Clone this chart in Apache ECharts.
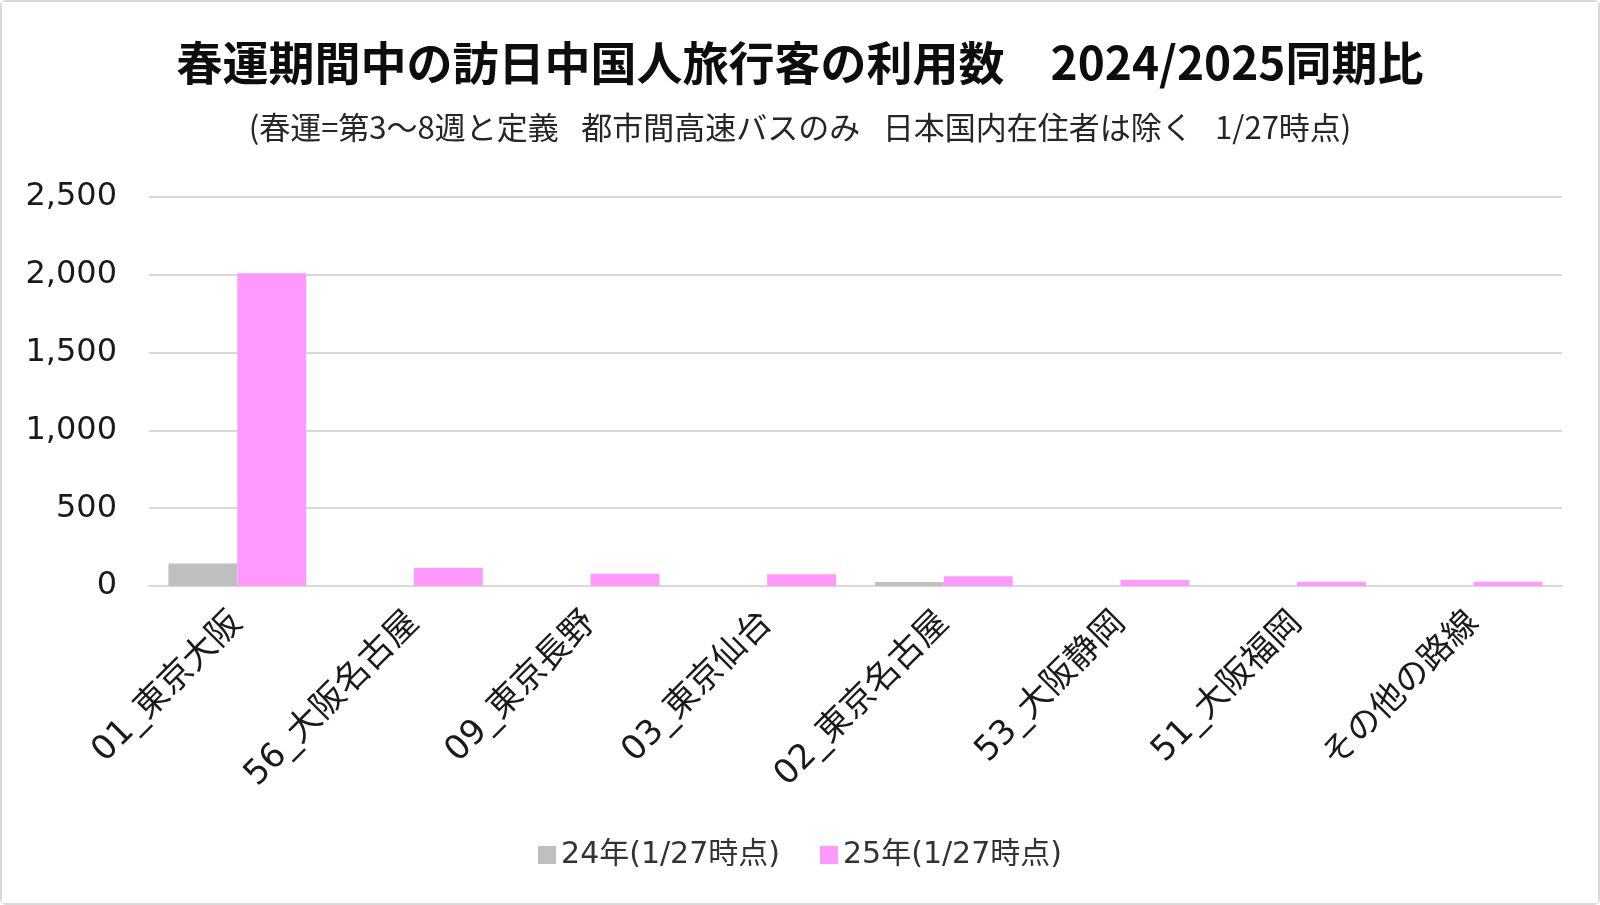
<!DOCTYPE html>
<html><head><meta charset="utf-8">
<script src="https://cdn.jsdelivr.net/npm/echarts@6/dist/echarts.min.js"></script>
<style>html,body{margin:0;padding:0;background:#fff}#c{width:1600px;height:905px;box-sizing:border-box;border:2px solid #d9d9d9;border-radius:6px}</style>
</head><body><div id="c"></div>
<script>
const categories = ['01_東京大阪','56_大阪名古屋','09_東京長野','03_東京仙台','02_東京名古屋','53_大阪静岡','51_大阪福岡','その他の路線'];
const series24 = [145, 0, 0, 0, 25, 0, 0, 0];
const series25 = [2010, 115, 78, 76, 63, 38, 27, 27];
const seriesNames = ['24年(1/27時点)', '25年(1/27時点)'];
const yTicks = {min: 0, max: 2500, interval: 500};
const titleText = '春運期間中の訪日中国人旅行客の利用数\u3000 2024/2025同期比';
const subText = '(春運=第3～8週と定義\u2002 都市間高速バスのみ\u2002 日本国内在住者は除く\u2002 1/27時点)';

const FONT = '"DejaVu Sans", "Noto Sans CJK JP", sans-serif';
const chart = echarts.init(document.getElementById('c'), null, {renderer: 'canvas'});
chart.setOption({
  backgroundColor: '#fff',
  animation: false,
  title: {
    text: titleText.replace('\u3000 ', '\u3000'),
    subtext: subText,
    left: 'center',
    top: 33,
    itemGap: 26,
    textStyle: {fontFamily: '"Noto Sans CJK JP", sans-serif', fontWeight: 'bold', fontSize: 46, color: '#0d0d0d'},
    subtextStyle: {fontFamily: '"Noto Sans CJK JP", sans-serif', fontSize: 31, color: '#262626'}
  },
  legend: {
    bottom: 28,
    left: 'center',
    itemWidth: 18, itemHeight: 18, itemGap: 40,
    icon: 'rect',
    textStyle: {fontFamily: FONT, fontSize: 30, color: '#333'},
    data: seriesNames
  },
  grid: {left: 147, right: 36, top: 195, bottom: 317, containLabel: false},
  xAxis: {
    type: 'category',
    data: categories,
    axisLine: {lineStyle: {color: '#d9d9d9', width: 2}},
    axisTick: {show: false},
    axisLabel: {rotate: 45, interval: 0, fontFamily: FONT, fontSize: 34, color: '#1a1a1a', margin: 32}
  },
  yAxis: {
    type: 'value',
    min: yTicks.min, max: yTicks.max, interval: yTicks.interval,
    axisLine: {show: false},
    axisTick: {show: false},
    splitLine: {lineStyle: {color: '#d9d9d9', width: 2}},
    axisLabel: {fontFamily: FONT, fontSize: 32, color: '#1a1a1a', margin: 32,
      formatter: v => v.toLocaleString('en-US')}
  },
  series: [
    {name: seriesNames[0], type: 'bar', data: series24, itemStyle: {color: '#bfbfbf'}, barGap: '0%', barCategoryGap: '22%'},
    {name: seriesNames[1], type: 'bar', data: series25, itemStyle: {color: '#ff99ff'}, barGap: '0%', barCategoryGap: '22%'}
  ]
});
</script></body></html>
